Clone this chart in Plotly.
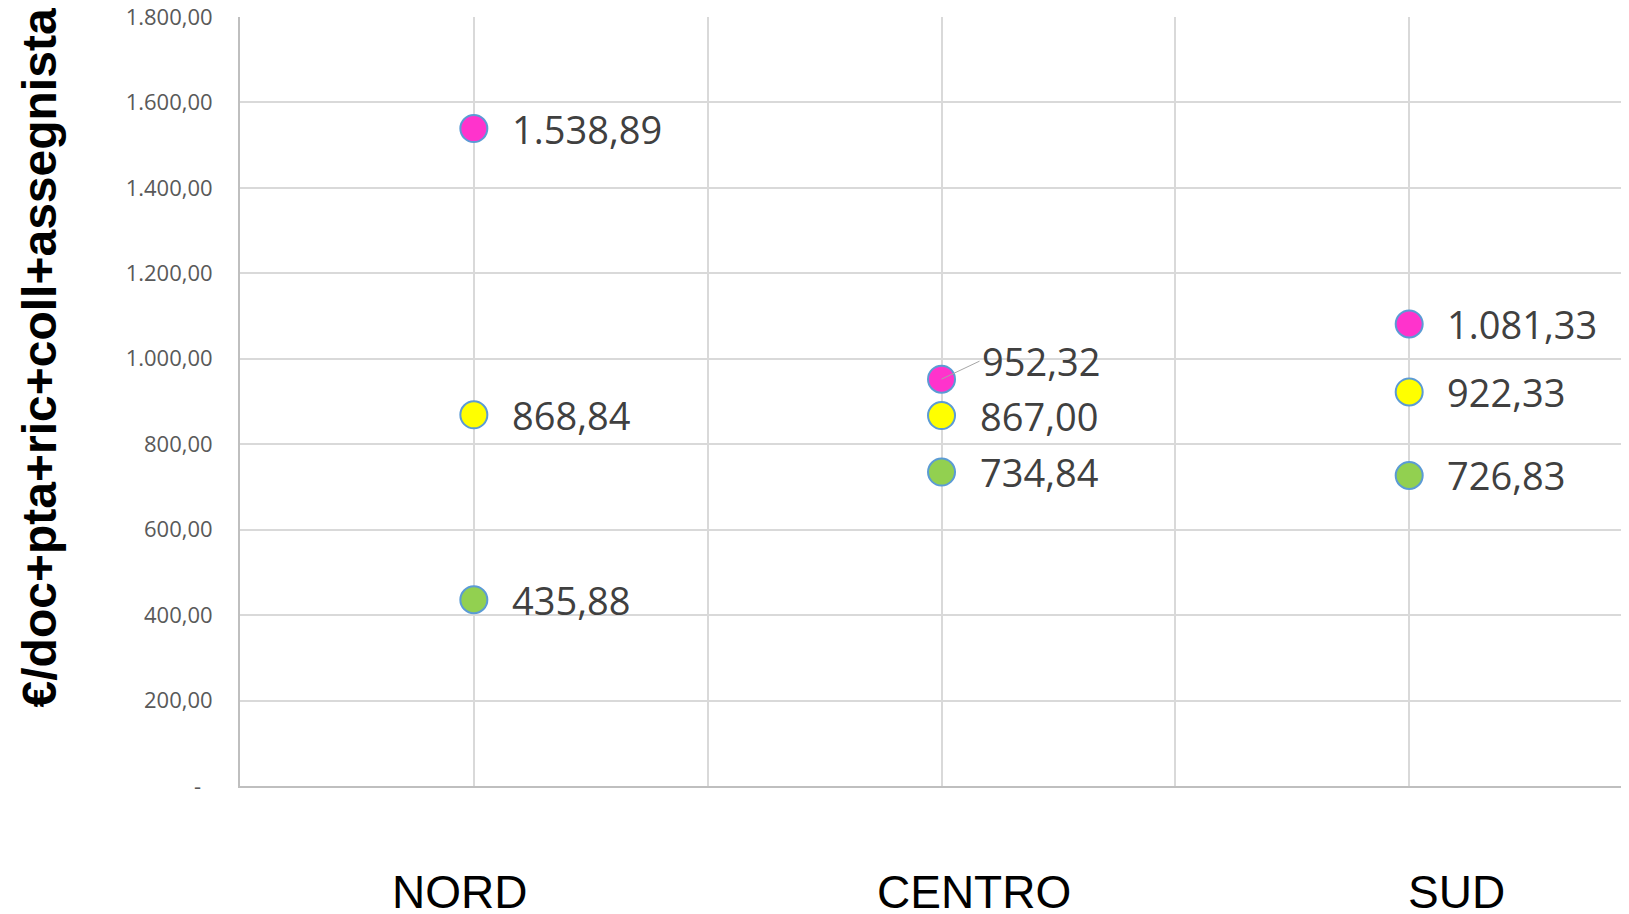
import plotly.graph_objects as go

# dati
aree = ["NORD", "CENTRO", "SUD"]
serie_rosa = [1538.89, 952.32, 1081.33]
serie_gialla = [868.84, 867.00, 922.33]
serie_verde = [435.88, 734.84, 726.83]
y_ticks = [0, 200, 400, 600, 800, 1000, 1200, 1400, 1600, 1800]
titolo_y = "€/doc+pta+ric+coll+assegnista"

# spostamento orizzontale (px) delle etichette di categoria, come nell'originale
shift_etichette = [-14, 32, 47]


def fmt_it(v):
    # formato italiano: 1.538,89
    s = f"{v:,.2f}"
    return s.replace(",", "#").replace(".", ",").replace("#", ".")


y_ticktext = ["-\u00a0\u00a0" if v == 0 else fmt_it(v) for v in y_ticks]
x_pos = list(range(len(aree)))

fig = go.Figure()

series = [
    (serie_rosa, "#FF33CC"),
    (serie_gialla, "#FFFF00"),
    (serie_verde, "#92D050"),
]
for vals, col in series:
    fig.add_scatter(
        x=x_pos,
        y=vals,
        mode="markers",
        marker=dict(size=27, color=col, line=dict(width=2, color="#5B9BD5")),
        showlegend=False,
        hoverinfo="skip",
    )

label_font = dict(family="Open Sans", size=38, color="#404040")
for vals, col in series:
    for i, v in enumerate(vals):
        if vals is serie_rosa and aree[i] == "CENTRO":
            # etichetta spostata con linea guida
            fig.add_annotation(
                x=x_pos[i], y=v, text=fmt_it(v),
                showarrow=True, ax=38, ay=-18,
                arrowhead=0, arrowwidth=1, arrowcolor="#A6A6A6",
                xanchor="left", yanchor="middle",
                font=label_font,
            )
        else:
            fig.add_annotation(
                x=x_pos[i], y=v, text=fmt_it(v),
                showarrow=False, xanchor="left", yanchor="middle",
                xshift=36, font=label_font,
            )

# etichette delle categorie
for i, nome in enumerate(aree):
    fig.add_annotation(
        x=x_pos[i], xref="x", y=0, yref="paper",
        text=nome, showarrow=False,
        xanchor="center", yanchor="middle",
        xshift=shift_etichette[i], yshift=-106,
        font=dict(family="Liberation Sans, Arial", size=46, color="#000000"),
    )

fig.add_annotation(
    xref="paper", yref="paper",
    x=-0.1447, y=0.556,
    xanchor="center", yanchor="middle",
    text=titolo_y, textangle=-90, showarrow=False,
    font=dict(family="Liberation Sans, Arial", size=48, color="#000000", weight="bold"),
)

# la pagina ha 8px di margine: la figura parte da (8, 8)
fig.update_layout(
    width=1621,
    height=906,
    margin=dict(l=232, r=0, t=9, b=128, autoexpand=False),
    paper_bgcolor="white",
    plot_bgcolor="white",
)
fig.update_xaxes(
    range=[-0.5, 2.47],
    tickmode="array",
    tickvals=x_pos,
    showticklabels=False,
    ticks="",
    automargin=False,
    showgrid=True,
    gridcolor="#D9D9D9",
    gridwidth=1.5,
    minor=dict(tickmode="array", tickvals=[-0.5, 0.5, 1.5, 2.5],
               showgrid=True, gridcolor="#D9D9D9", gridwidth=1.5),
    zeroline=False,
    showline=True,
    linecolor="#BFBFBF",
    linewidth=2,
)
fig.update_yaxes(
    range=[0, 1800],
    tickmode="array",
    tickvals=y_ticks,
    ticktext=y_ticktext,
    tickfont=dict(family="Open Sans", size=22, color="#595959"),
    ticklabelstandoff=21,
    ticklabeloverflow="allow",
    ticks="",
    automargin=False,
    showgrid=True,
    gridcolor="#D9D9D9",
    gridwidth=1.5,
    zeroline=False,
    showline=True,
    linecolor="#BFBFBF",
    linewidth=2,
)

fig.write_html("out.html")
